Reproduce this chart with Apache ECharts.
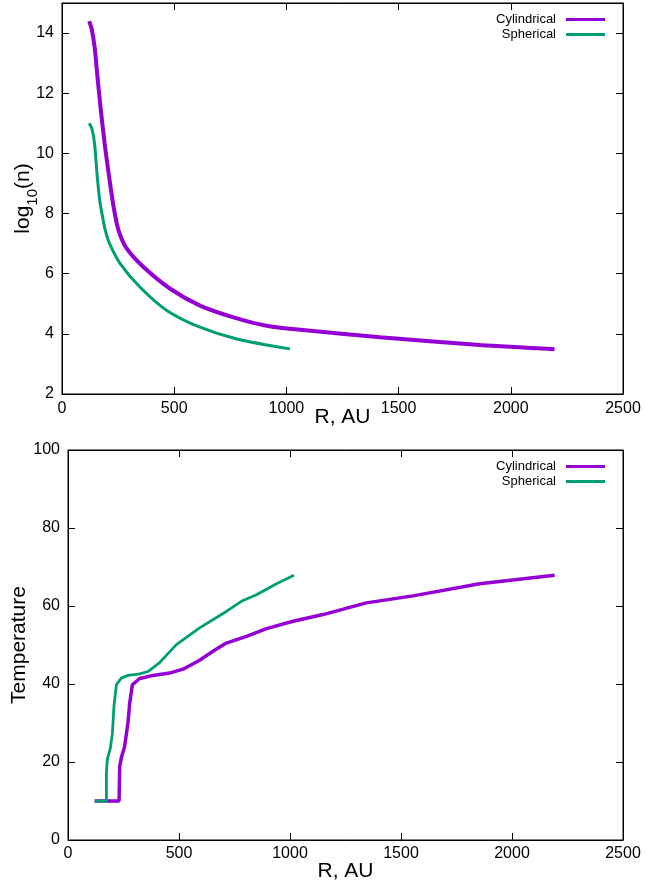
<!DOCTYPE html>
<html>
<head>
<meta charset="utf-8">
<script src="https://cdn.jsdelivr.net/npm/echarts@6/dist/echarts.min.js"></script>
<style>html,body{margin:0;padding:0;background:#fff}#c{width:646px;height:887px}</style>
</head>
<body>
<div id="c"></div>
<script>
// ---- Density panel data ----
var rCylDen = [121, 133, 145, 158, 173, 190, 208, 230, 252, 289, 363, 482, 615, 764, 912, 1097, 1417, 1862, 2195];
var nCyl    = [14.4, 14.11, 13.55, 12.55, 11.44, 10.33, 9.33, 8.22, 7.44, 6.83, 6.22, 5.5, 4.94, 4.55, 4.27, 4.11, 3.89, 3.63, 3.49];
var rSphDen = [121, 133, 145, 156, 168, 178, 193, 212, 260, 348, 467, 615, 779, 1016];
var nSph    = [11.0, 10.83, 10.33, 9.33, 8.44, 8.0, 7.44, 7.0, 6.33, 5.55, 4.78, 4.22, 3.83, 3.5];
// ---- Temperature panel data ----
var rCylTmp = [120, 230, 233, 240, 255, 270, 278, 290, 323, 383, 458, 518, 593, 653, 713, 804, 894, 1014, 1149, 1344, 1554, 1854, 2192];
var tCyl    = [10, 10, 18.9, 21, 24, 30, 35.1, 39.8, 41.4, 42.2, 42.8, 43.8, 46.1, 48.4, 50.5, 52.2, 54.2, 56.1, 57.8, 60.8, 62.6, 65.7, 67.9];
var rSphTmp = [120, 173, 173, 177, 191, 200, 207, 218, 240, 270, 323, 360, 413, 488, 593, 713, 781, 849, 939, 1018];
var tSph    = [10, 10, 17.2, 20.6, 23.6, 27.4, 34.3, 39.8, 41.5, 42.2, 42.6, 43.2, 45.5, 50.1, 54.4, 58.6, 61.2, 62.9, 65.7, 67.9];
// ---- Axis settings ----
var xTicks = [0, 500, 1000, 1500, 2000, 2500];
var denTicks = [2, 4, 6, 8, 10, 12, 14];
var tmpTicks = [0, 20, 40, 60, 80, 100];
var seriesNames = ['Cylindrical', 'Spherical'];

var FONT = 'Liberation Sans, Arial, sans-serif';
var PURPLE = '#9400D3', GREEN = '#009E73';
function zip(a, b) { return a.map(function (v, i) { return [v, b[i]]; }); }
function plain(v) { return String(v); }

var chart = echarts.init(document.getElementById('c'), null, {renderer: 'canvas'});

var lineStyleAxis = {show: true, onZero: false, lineStyle: {color: '#000', width: 1}};
var tickIn = {show: true, inside: true, length: 7, lineStyle: {color: '#000', width: 1}};
function mainX(grid, name, gap, margin) {
  return {
    type: 'value', gridIndex: grid, position: 'bottom', min: xTicks[0], max: xTicks[xTicks.length - 1], interval: 500,
    axisLine: lineStyleAxis, axisTick: tickIn, splitLine: {show: false},
    axisLabel: {color: '#000', fontSize: 16, fontFamily: FONT, margin: margin, formatter: plain},
    name: name, nameLocation: 'middle', nameGap: gap, nameMoveOverlap: false,
    nameTextStyle: {color: '#000', fontSize: 21, fontFamily: FONT}
  };
}
function mirrorX(grid) {
  return {
    type: 'value', gridIndex: grid, position: 'top', min: xTicks[0], max: xTicks[xTicks.length - 1], interval: 500,
    axisLine: lineStyleAxis, axisTick: tickIn, splitLine: {show: false}, axisLabel: {show: false}
  };
}
function mainY(grid, ticks, max, name, gap, rich) {
  var o = {
    type: 'value', gridIndex: grid, position: 'left', min: ticks[0], max: max, interval: ticks[1] - ticks[0],
    axisLine: lineStyleAxis, axisTick: tickIn, splitLine: {show: false},
    axisLabel: {color: '#000', fontSize: 16, fontFamily: FONT, margin: 8, formatter: plain,
      showMaxLabel: max === ticks[ticks.length - 1]},
    name: name, nameLocation: 'middle', nameGap: gap, nameRotate: 90, nameMoveOverlap: false,
    nameTextStyle: {color: '#000', fontSize: 21, fontFamily: FONT}
  };
  if (rich) o.nameTextStyle.rich = rich;
  return o;
}
function mirrorY(grid, ticks, max) {
  return {
    type: 'value', gridIndex: grid, position: 'right', min: ticks[0], max: max, interval: ticks[1] - ticks[0],
    axisLine: lineStyleAxis, axisTick: tickIn, splitLine: {show: false}, axisLabel: {show: false}
  };
}
function legendItem(name, top) {
  return {
    data: [name], right: 36, top: top, orient: 'vertical', align: 'right',
    icon: 'rect', itemWidth: 39, itemHeight: 3, itemGap: 2, selectedMode: false,
    textStyle: {color: '#000', fontSize: 13, fontFamily: FONT, padding: [0, 5, 0, 0]}
  };
}

var option = {
  backgroundColor: '#fff',
  animation: false,
  grid: [
    {left: 62, right: 23, top: 3, height: 391, show: true, borderColor: '#000', borderWidth: 1,
     containLabel: false, outerBoundsMode: 'none'},
    {left: 68, right: 23, top: 450, height: 390, show: true, borderColor: '#000', borderWidth: 1,
     containLabel: false, outerBoundsMode: 'none'}
  ],
  xAxis: [mainX(0, 'R, AU', 13, 7), mirrorX(0), mainX(1, 'R, AU', 21, 6), mirrorX(1)],
  yAxis: [
    mainY(0, denTicks, 15, '{a|log}{s|10}{a|(n)}', 28, {
      a: {fontSize: 21, fontFamily: FONT, color: '#000', verticalAlign: 'bottom', lineHeight: 24},
      s: {fontSize: 15, fontFamily: FONT, color: '#000', verticalAlign: 'bottom', lineHeight: 24, padding: [0, 0, -6, 0]}
    }),
    mirrorY(0, denTicks, 15),
    mainY(1, tmpTicks, 100, 'Temperature', 38),
    mirrorY(1, tmpTicks, 100)
  ],
  legend: [
    legendItem('Cylindrical', 8), legendItem('Spherical', 23),
    legendItem('Cylindrical', 455), legendItem('Spherical', 470)
  ],
  series: [
    {name: seriesNames[0], type: 'line', xAxisIndex: 0, yAxisIndex: 0, data: zip(rCylDen, nCyl),
     showSymbol: false, symbol: 'none', smooth: 0.3, color: PURPLE, lineStyle: {width: 4, color: PURPLE}, z: 2},
    {name: seriesNames[1], type: 'line', xAxisIndex: 0, yAxisIndex: 0, data: zip(rSphDen, nSph),
     showSymbol: false, symbol: 'none', smooth: 0.3, color: GREEN, lineStyle: {width: 3, color: GREEN}, z: 3},
    {name: seriesNames[0], type: 'line', xAxisIndex: 2, yAxisIndex: 2, data: zip(rCylTmp, tCyl),
     showSymbol: false, symbol: 'none', color: PURPLE, lineStyle: {width: 3.5, color: PURPLE}, z: 2},
    {name: seriesNames[1], type: 'line', xAxisIndex: 2, yAxisIndex: 2, data: zip(rSphTmp, tSph),
     showSymbol: false, symbol: 'none', color: GREEN, lineStyle: {width: 2.8, color: GREEN}, z: 3}
  ]
};
chart.setOption(option);
</script>
</body>
</html>
